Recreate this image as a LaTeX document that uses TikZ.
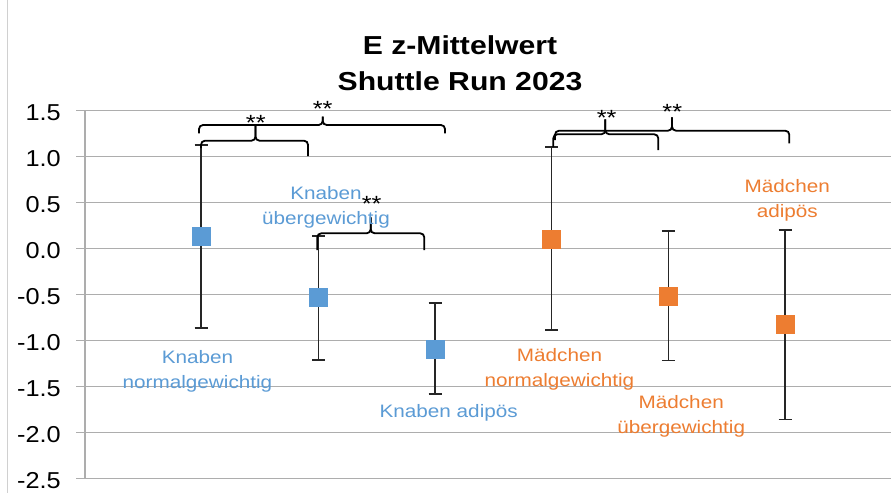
\documentclass[tikz,border=0pt]{standalone}
\usepackage{fontspec}
\setmainfont{Liberation Sans}
\newfontfamily\labfont[FakeStretch=1.15]{Liberation Sans}
\newfontfamily\tickfont[FakeStretch=1.1]{Liberation Sans}
\newfontfamily\titlefont[FakeStretch=1.16]{Liberation Sans}
\definecolor{kblue}{HTML}{5B9BD5}
\definecolor{morange}{HTML}{ED7D31}
\definecolor{gridgray}{HTML}{ADADAD}
\definecolor{bordergray}{HTML}{D0D0D0}
\definecolor{barblack}{HTML}{262626}
\newcommand\mybrace[7]{%
  \draw[brc] (#1,#2) -- (#1,#6) -- (#5,#6) -- (#5,#7);
  \draw[brc] (#5,#7) -- (#5,#6) -- (#3,#6) -- (#3,#4);}
\newcommand\twol[2]{\begin{tabular}[t]{@{}c@{}}#1\\#2\end{tabular}}
\begin{document}
\begin{tikzpicture}[x=1pt,y=-1pt,
  gridline/.style={draw=gridgray,line width=1.3pt},
  ebar/.style={draw=barblack,line width=1.4pt},
  brc/.style={draw=black,line width=1.8pt,rounded corners=4pt},
  mk/.style={rectangle,minimum size=19pt,inner sep=0pt},
  ticklab/.style={anchor=base east,inner sep=0pt,font=\fontsize{23}{23}\selectfont\tickfont},
  stars/.style={anchor=base,inner sep=0pt,font=\fontsize{22}{22}\selectfont\labfont},
  klab/.style={anchor=base,inner sep=0pt,text=kblue,font=\fontsize{18}{25}\selectfont\labfont},
  mlab/.style={anchor=base,inner sep=0pt,text=morange,font=\fontsize{18}{25}\selectfont\labfont},
  titlelab/.style={anchor=base,inner sep=0pt,font=\fontsize{26}{36.5}\selectfont\titlefont\bfseries}
]
\useasboundingbox (0,0) rectangle (891,493);
\fill[white] (0,0) rectangle (891,493);
% chart border
\draw[bordergray,line width=1pt] (7,0) coordinate (bt) -- (7,493) coordinate (bb);
% gridlines and tick labels
\foreach \lab/\yy in {1.5/110.5, 1.0/156.5, 0.5/202.5, 0.0/248.5, -0.5/294.5, -1.0/340.5, -1.5/386.5, -2.0/432.5, -2.5/478.5}{
  \draw[gridline] (76,\yy) -- (891,\yy);
  \node[ticklab] at (61,\yy+9.5) {\lab};
}
\draw[gridline] (85,110.5) coordinate (axt) -- (85,478.5) coordinate (axb);
% title
\node[titlelab] (title) at (460,54) {\twol{E z-Mittelwert}{Shuttle Run 2023}};
% error bar end points
\coordinate (knt) at (201,145); \coordinate (knb) at (201,328);
\coordinate (kut) at (318.5,236); \coordinate (kub) at (318.5,360);
\coordinate (kat) at (435,303); \coordinate (kab) at (435,394);
\coordinate (mnt) at (551.5,147); \coordinate (mnb) at (551.5,330);
\coordinate (mut) at (668.3,231); \coordinate (mub) at (668.3,360.5);
\coordinate (mat) at (785,230); \coordinate (mab) at (785,419.5);
\foreach \p in {kn,ku,ka,mn,mu,ma}{
  \draw[ebar] (\p t) -- (\p b);
  \draw[ebar] ([xshift=-6.5pt]\p t) -- ([xshift=6.5pt]\p t);
  \draw[ebar] ([xshift=-6.5pt]\p b) -- ([xshift=6.5pt]\p b);
}
% markers
\node[mk,fill=kblue] (kn) at (201.5,236) {};
\node[mk,fill=kblue] (ku) at (318.5,297.5) {};
\node[mk,fill=kblue] (ka) at (435,349) {};
\node[mk,fill=morange] (mn) at (551.5,239) {};
\node[mk,fill=morange] (mu) at (668.3,296.3) {};
\node[mk,fill=morange] (ma) at (785,324.3) {};
% braces
\mybrace{201}{148}{308}{156}{255.5}{140.7}{126}
\mybrace{199}{133.3}{445}{133.3}{322.7}{125}{116.7}
\mybrace{317.3}{250}{424.3}{250}{370.7}{233.3}{217.3}
\mybrace{553.3}{147}{658.3}{150}{605.3}{134.3}{119.3}
\mybrace{555}{140}{789.3}{143.3}{672}{130.7}{117.3}
% significance stars
\node[stars] (s1) at (255.8,130.7) {**};
\node[stars] (s2) at (322.7,116.7) {**};
\node[stars] (s3) at (371.7,211.7) {**};
\node[stars] (s4) at (606.7,125.2) {**};
\node[stars] (s5) at (672.3,119.4) {**};
% category labels
\node[klab] (lkn) at (197.5,363.3) {\twol{Knaben}{normalgewichtig}};
\node[klab] (lku) at (326,199) {\twol{Knaben}{übergewichtig}};
\node[klab] (lka) at (448.7,417.7) {Knaben adipös};
\node[mlab] (lmn) at (559.5,361) {\twol{Mädchen}{normalgewichtig}};
\node[mlab] (lmu) at (681.2,408.7) {\twol{Mädchen}{übergewichtig}};
\node[mlab] (lma) at (787.3,192.3) {\twol{Mädchen}{adipös}};
\end{tikzpicture}
\end{document}
